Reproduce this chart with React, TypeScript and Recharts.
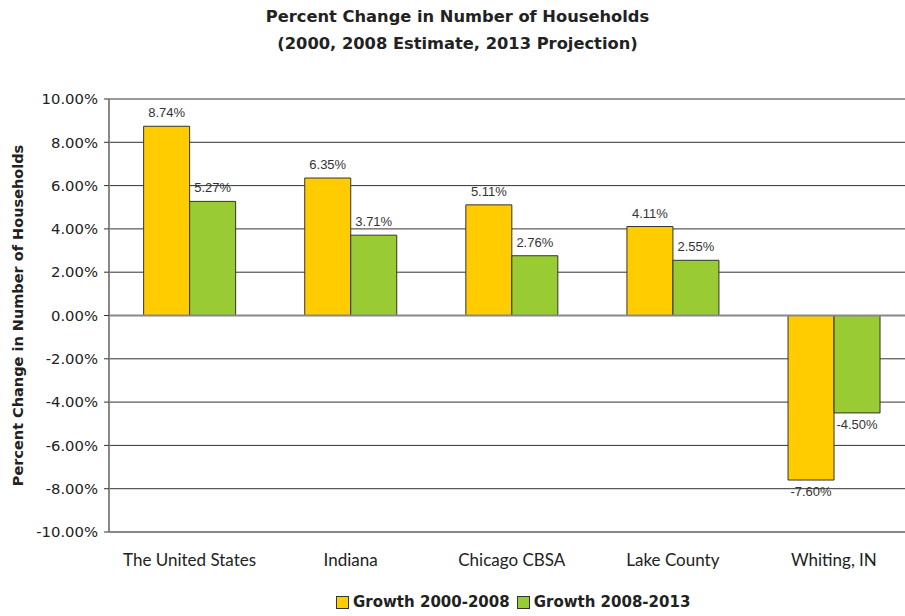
import React from 'react';
import { BarChart, Bar, XAxis, YAxis, CartesianGrid, ReferenceLine, LabelList } from 'recharts';

const categories = ['The United States', 'Indiana', 'Chicago CBSA', 'Lake County', 'Whiting, IN'];
const growth2000_2008 = [8.74, 6.35, 5.11, 4.11, -7.6];
const growth2008_2013 = [5.27, 3.71, 2.76, 2.55, -4.5];
const yTicks = [-10, -8, -6, -4, -2, 0, 2, 4, 6, 8, 10];
const seriesNames = ['Growth 2000-2008', 'Growth 2008-2013'];
const colors = ['#FFCC00', '#99CC33'];

const data = categories.map((c, i) => ({ name: c, a: growth2000_2008[i], b: growth2008_2013[i] }));

const fmt = (v: number) => v.toFixed(2) + '%';

const ValueLabel = (props: any) => {
  const { x, y, width, height, value } = props;
  const neg = value < 0;
  const cx = x + width / 2;
  const top = Math.min(y, y + height);
  const bottom = Math.max(y, y + height);
  const yy = neg ? bottom + 16 : top - 9;
  return (
    <text x={cx} y={yy} textAnchor="middle" fontSize={13} fill="#333" fontFamily="Liberation Sans, Arial, sans-serif">
      {fmt(value)}
    </text>
  );
};

export default function App() {
  return (
    <div style={{ position: 'absolute', left: 0, top: 0, width: 905, height: 616, background: '#fff', overflow: 'hidden' }}>
      <div style={{ position: 'absolute', left: 5, top: 3, width: 905, textAlign: 'center', fontFamily: 'DejaVu Sans, sans-serif', fontWeight: 'bold', fontSize: 16.3, lineHeight: '27px', color: '#222' }}>
        Percent Change in Number of Households<br />(2000, 2008 Estimate, 2013 Projection)
      </div>
      <BarChart width={920} height={616} data={data} margin={{ top: 99, right: 5.5, bottom: 54, left: 0 }} barCategoryGap="21.5%" barGap={0}>
        <CartesianGrid vertical={false} stroke="#333" />
        <XAxis dataKey="name" height={30} tickLine={false} axisLine={{ stroke: '#888', strokeWidth: 2 }} tickMargin={16} tick={{ fontSize: 17, fill: '#222', fontFamily: 'Lato, sans-serif' }} interval={0} />
        <YAxis domain={[-10, 10]} ticks={yTicks} tickFormatter={fmt} width={109} axisLine={{ stroke: '#888', strokeWidth: 2 }} tickLine={{ stroke: '#333' }} tickSize={5} tickMargin={6} tick={{ fontSize: 14.8, fill: '#222', fontFamily: 'DejaVu Sans, sans-serif' }}
          label={{ value: 'Percent Change in Number of Households', angle: -90, position: 'insideLeft', offset: 18, style: { textAnchor: 'middle', fontSize: 14.5, fontWeight: 'bold', fill: '#222', fontFamily: 'DejaVu Sans, sans-serif' } }} />
        <ReferenceLine y={0} stroke="#888" strokeWidth={2} />
        <ReferenceLine y={10} stroke="#999" strokeWidth={2} />
        <Bar dataKey="a" fill={colors[0]} stroke="#333" strokeWidth={1} isAnimationActive={false}>
          <LabelList dataKey="a" content={ValueLabel} />
        </Bar>
        <Bar dataKey="b" fill={colors[1]} stroke="#333" strokeWidth={1} isAnimationActive={false}>
          <LabelList dataKey="b" content={ValueLabel} />
        </Bar>
      </BarChart>
      <div style={{ position: 'absolute', left: 336, top: 593, display: 'flex', alignItems: 'center', fontFamily: 'DejaVu Sans, sans-serif', fontWeight: 'bold', fontSize: 15, color: '#222' }}>
        {seriesNames.map((n, i) => (
          <span key={n} style={{ display: 'flex', alignItems: 'center', marginRight: 7 }}>
            <span style={{ display: 'inline-block', width: 11, height: 11, background: colors[i], border: '1px solid #333', marginRight: 4 }} />
            {n}
          </span>
        ))}
      </div>
    </div>
  );
}
